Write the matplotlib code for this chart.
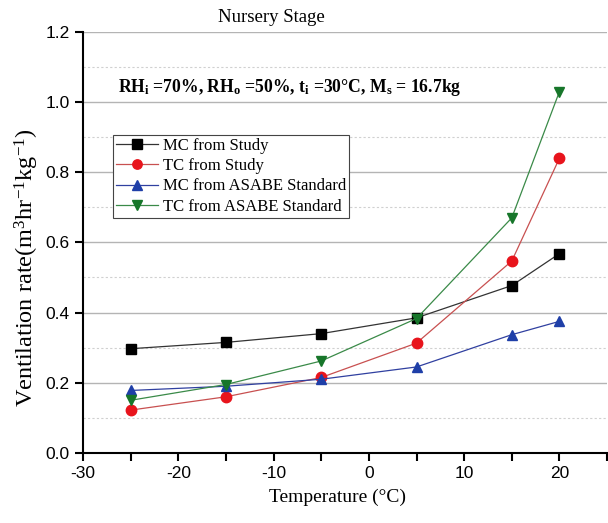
import numpy as np
import matplotlib
matplotlib.use("Agg")
import matplotlib.pyplot as plt
from matplotlib.ticker import MultipleLocator

plt.rcParams['mathtext.fontset'] = 'custom'
plt.rcParams['mathtext.rm'] = 'Liberation Serif'
plt.rcParams['mathtext.it'] = 'Liberation Serif'
plt.rcParams['mathtext.bf'] = 'Liberation Serif:bold'
plt.rcParams['axes.unicode_minus'] = False

temps = [-25, -15, -5, 5, 15, 20]
mc_study = [0.297, 0.315, 0.340, 0.385, 0.477, 0.568]
tc_study = [0.122, 0.160, 0.215, 0.313, 0.547, 0.840]
mc_asabe = [0.178, 0.190, 0.210, 0.245, 0.337, 0.375]
tc_asabe = [0.150, 0.195, 0.262, 0.383, 0.670, 1.030]

series = [
    ("MC from Study", mc_study, "#000000", "s", "#333333"),
    ("TC from Study", tc_study, "#e8141c", "o", "#c85050"),
    ("MC from ASABE Standard", mc_asabe, "#1f3fa8", "^", "#3040a0"),
    ("TC from ASABE Standard", tc_asabe, "#17762a", "v", "#3a8a48"),
]

fig = plt.figure(figsize=(6.08, 5.23), dpi=100)
ax = fig.add_axes([0.1365, 0.134, 0.862, 0.805])

for name, vals, mcol, mk, lcol in series:
    ax.plot(temps, vals, color=lcol, lw=0.9, marker=mk, markersize=7.5,
            markerfacecolor=mcol, markeredgecolor=mcol, label=name)

ax.set_xlim(-30, 25)
ax.set_ylim(0, 1.2)
ax.xaxis.set_major_locator(MultipleLocator(10))
ax.xaxis.set_minor_locator(MultipleLocator(5))
ax.yaxis.set_major_locator(MultipleLocator(0.2))
ax.yaxis.set_minor_locator(MultipleLocator(0.1))
ax.yaxis.set_major_formatter(matplotlib.ticker.FormatStrFormatter('%.1f'))

ax.grid(True, axis='y', which='major', color='#b4b4b4', lw=1.0, ls='-')
ax.grid(True, axis='y', which='minor', color='#d0d0d0', lw=0.8, ls=(0, (2, 2)))
ax.set_axisbelow(True)

for s in ['top', 'right']:
    ax.spines[s].set_visible(False)
for s in ['left', 'bottom']:
    ax.spines[s].set_linewidth(1.5)

ax.tick_params(axis='both', which='major', direction='out', length=6, width=1.5,
               labelsize=12.5)
ax.tick_params(axis='x', which='minor', direction='out', length=6, width=1.5)
ax.tick_params(axis='y', which='minor', length=0)
for lab in ax.get_xticklabels() + ax.get_yticklabels():
    lab.set_family('Liberation Sans')

fig.text(271 / 608, 1 - 18 / 523, "Nursery Stage", family='Liberation Serif',
         fontsize=13.5, ha='center', va='center')
ax.set_xlabel("Temperature (°C)", family='Liberation Serif', fontsize=14)
ax.xaxis.set_label_coords((337 - 83) / 524, -0.085)
ax.set_ylabel(r"Ventilation rate(m$^{3}$hr$^{-1}$kg$^{-1}$)",
              family='Liberation Serif', fontsize=17.5)
ax.yaxis.set_label_coords(-0.08, (453 - 268) / 421)

ax.text(0.067, 0.867,
        r"RH$_\mathbf{i}$ =70%, RH$_\mathbf{o}$ =50%, t$_\mathbf{i}$ =30°C, M$_\mathbf{s}$ = 16.7kg",
        transform=ax.transAxes, fontsize=12.7, fontweight='bold',
        family='Liberation Serif', va='center', ha='left')

leg = ax.legend(loc='upper left', bbox_to_anchor=(0.057, 0.755), frameon=True,
                fancybox=False, edgecolor='#444444', framealpha=1,
                prop={'family': 'Liberation Serif', 'size': 12},
                handlelength=2.5, borderpad=0.18, labelspacing=0.25,
                handletextpad=0.3, borderaxespad=0, markerscale=0.9)
leg.get_frame().set_linewidth(0.8)

fig.savefig("out.png", dpi=100)
